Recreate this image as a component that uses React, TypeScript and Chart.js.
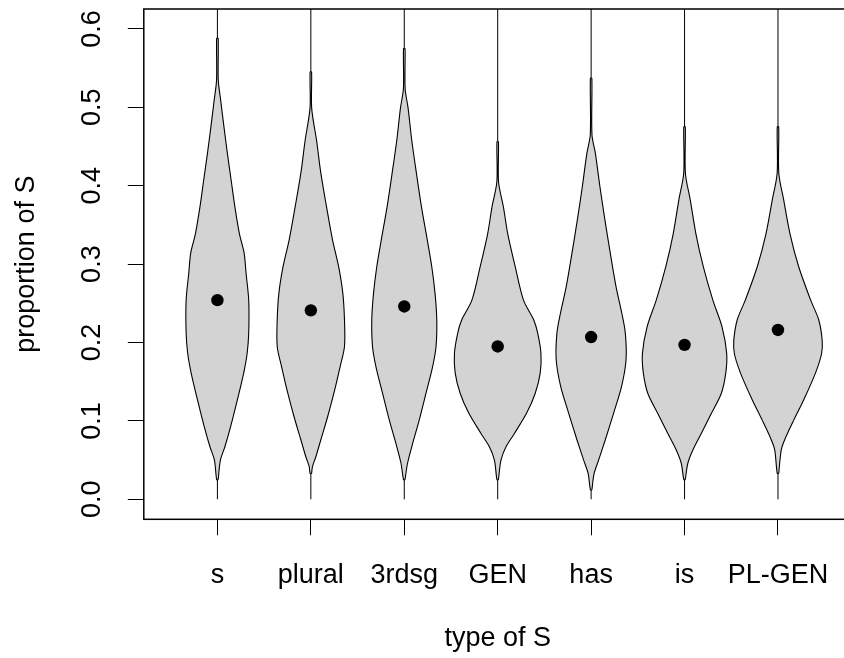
import React, { useEffect, useRef } from "react";
import { Chart, registerables } from "chart.js";

Chart.register(...registerables);

// ---------- data ----------
const categories = ["s", "plural", "3rdsg", "GEN", "has", "is", "PL-GEN"];
const medians = [0.254, 0.241, 0.246, 0.195, 0.207, 0.197, 0.216];
const whiskerLow = [0.0, 0.0, 0.0, 0.0, 0.0, 0.0, 0.0];
const whiskerHigh = [0.7, 0.7, 0.7, 0.7, 0.7, 0.7, 0.7];
const yTicks = [0, 0.1, 0.2, 0.3, 0.4, 0.5, 0.6];
const yTickLabels = ["0.0", "0.1", "0.2", "0.3", "0.4", "0.5", "0.6"];

// violin profiles: [value, half-width in category units]
const violinS = [
  [0.025, 0.008], [0.05, 0.032], [0.067, 0.08], [0.093, 0.142], [0.127, 0.214],
  [0.161, 0.281], [0.186, 0.318], [0.212, 0.335], [0.254, 0.335], [0.288, 0.307],
  [0.314, 0.286], [0.339, 0.235], [0.373, 0.187], [0.407, 0.147], [0.441, 0.107],
  [0.475, 0.07], [0.509, 0.035], [0.535, 0.009], [0.588, 0.008],
];
const violinPlural = [
  [0.033, 0.008], [0.042, 0.018], [0.054, 0.053], [0.076, 0.107], [0.105, 0.179],
  [0.135, 0.246], [0.169, 0.313], [0.195, 0.36], [0.229, 0.36], [0.263, 0.342],
  [0.297, 0.297], [0.331, 0.232], [0.373, 0.168], [0.416, 0.107], [0.458, 0.061],
  [0.499, 0.009], [0.545, 0.008],
];
const violin3rdsg = [
  [0.025, 0.008], [0.046, 0.035], [0.071, 0.089], [0.101, 0.16], [0.135, 0.232],
  [0.169, 0.303], [0.195, 0.34], [0.229, 0.348], [0.263, 0.329], [0.297, 0.294],
  [0.331, 0.246], [0.373, 0.184], [0.416, 0.13], [0.458, 0.08], [0.499, 0.041],
  [0.524, 0.009], [0.575, 0.008],
];
const violinGEN = [
  [0.025, 0.008], [0.05, 0.035], [0.067, 0.089], [0.084, 0.179], [0.11, 0.31],
  [0.135, 0.401], [0.161, 0.455], [0.186, 0.463], [0.212, 0.428], [0.229, 0.385],
  [0.254, 0.276], [0.297, 0.187], [0.339, 0.107], [0.373, 0.061], [0.405, 0.009],
  [0.456, 0.008],
];
const violinHas = [
  [0.012, 0.008], [0.033, 0.032], [0.05, 0.08], [0.076, 0.152], [0.11, 0.241],
  [0.144, 0.326], [0.178, 0.374], [0.212, 0.366], [0.237, 0.329], [0.271, 0.267],
  [0.314, 0.205], [0.356, 0.148], [0.399, 0.094], [0.441, 0.046], [0.465, 0.009],
  [0.537, 0.008],
];
const violinIs = [
  [0.025, 0.008], [0.046, 0.035], [0.063, 0.089], [0.084, 0.179], [0.11, 0.289],
  [0.135, 0.393], [0.161, 0.441], [0.186, 0.451], [0.22, 0.401], [0.254, 0.303],
  [0.297, 0.2], [0.339, 0.121], [0.382, 0.061], [0.416, 0.009], [0.475, 0.008],
];
const violinPLGEN = [
  [0.033, 0.008], [0.063, 0.035], [0.076, 0.072], [0.101, 0.169], [0.127, 0.276],
  [0.161, 0.401], [0.186, 0.467], [0.203, 0.473], [0.229, 0.436], [0.254, 0.35],
  [0.297, 0.221], [0.339, 0.128], [0.382, 0.061], [0.416, 0.009], [0.475, 0.008],
];
const violins = [violinS, violinPlural, violin3rdsg, violinGEN, violinHas, violinIs, violinPLGEN];

const xTitle = "type of S";
const yTitle = "proportion of S";

// ---------- styling ----------
const FONT = "'Liberation Sans', Arial, sans-serif";
const TICK_SIZE = 27;
const TITLE_SIZE = 27;
const FILL = "#D3D3D3";

const boxAndLabels = {
  id: "boxAndLabels",
  afterDraw(chart: any) {
    const { ctx, chartArea, scales } = chart;
    ctx.save();
    ctx.strokeStyle = "#000";
    ctx.lineWidth = 1.5;
    ctx.strokeRect(chartArea.left, chartArea.top, chartArea.right - chartArea.left, chartArea.bottom - chartArea.top);
    // rotated y tick labels (R style, parallel to axis)
    ctx.fillStyle = "#000";
    ctx.font = `${TICK_SIZE}px ${FONT}`;
    ctx.textAlign = "center";
    ctx.textBaseline = "middle";
    const x = chartArea.left - 51.5;
    yTicks.forEach((v, i) => {
      const y = scales.y.getPixelForValue(v);
      ctx.save();
      ctx.translate(x, y);
      ctx.rotate(-Math.PI / 2);
      ctx.fillText(yTickLabels[i], 0, 0);
      ctx.restore();
    });
    ctx.restore();
  },
};

export default function App() {
  const ref = useRef<HTMLCanvasElement | null>(null);

  useEffect(() => {
    if (!ref.current) return;
    const datasets: any[] = [];
    categories.forEach((_, i) => {
      datasets.push({
        type: "scatter",
        data: [
          { x: i + 1, y: whiskerLow[i] },
          { x: i + 1, y: whiskerHigh[i] },
        ],
        showLine: true,
        borderColor: "#000",
        borderWidth: 1,
        pointRadius: 0,
        fill: false,
        order: 2,
      });
    });
    violins.forEach((prof, i) => {
      const c = i + 1;
      const right = prof.map(([v, w]) => ({ x: c + w, y: v }));
      const left = prof.slice().reverse().map(([v, w]) => ({ x: c - w, y: v }));
      const pts = [...right, ...left, right[0]];
      datasets.push({
        type: "scatter",
        data: pts,
        showLine: true,
        borderColor: "#000",
        borderWidth: 1.1,
        backgroundColor: FILL,
        fill: "shape",
        pointRadius: 0,
        tension: 0.3,
        order: 1,
      });
    });
    datasets.push({
      type: "scatter",
      data: medians.map((m, i) => ({ x: i + 1, y: m })),
      showLine: false,
      pointRadius: 6.2,
      pointBackgroundColor: "#000",
      pointBorderColor: "#000",
      pointBorderWidth: 0,
      order: 0,
    });

    const chart = new Chart(ref.current, {
      type: "scatter",
      data: { datasets },
      options: {
        animation: false,
        responsive: false,
        events: [],
        layout: { padding: { top: 9, right: 8.4, left: 0.5, bottom: 0 } },
        plugins: { legend: { display: false }, tooltip: { enabled: false } },
        scales: {
          x: {
            type: "linear",
            min: 0.212,
            max: 7.788,
            afterBuildTicks: (axis: any) => {
              axis.ticks = categories.map((_, i) => ({ value: i + 1 }));
            },
            afterFit: (scale: any) => {
              scale.height = 138.7;
            },
            ticks: {
              autoSkip: false,
              maxRotation: 0,
              minRotation: 0,
              padding: 24,
              color: "#000",
              font: { family: FONT, size: TICK_SIZE },
              callback: (v: any) => categories[Math.round(Number(v)) - 1] ?? "",
            },
            grid: { drawOnChartArea: false, drawTicks: true, tickLength: 16, color: "#000", lineWidth: 1 },
            border: { display: false },
            title: {
              display: true,
              text: xTitle,
              color: "#000",
              font: { family: FONT, size: TITLE_SIZE },
              padding: { top: 0, bottom: 3 },
            },
          },
          y: {
            type: "linear",
            min: -0.0255,
            max: 0.6254,
            afterBuildTicks: (axis: any) => {
              axis.ticks = yTicks.map((v) => ({ value: v }));
            },
            afterFit: (scale: any) => {
              scale.width = 143.3;
            },
            ticks: { display: false },
            grid: { drawOnChartArea: false, drawTicks: true, tickLength: 16, color: "#000", lineWidth: 1 },
            border: { display: false },
            title: {
              display: true,
              text: yTitle,
              color: "#000",
              font: { family: FONT, size: TITLE_SIZE },
              padding: { top: 10, bottom: 0 },
            },
          },
        },
      },
      plugins: [boxAndLabels],
    });
    return () => chart.destroy();
  }, []);

  return (
    <div style={{ position: "fixed", left: 0, top: 0, width: 844, height: 658, overflow: "hidden", background: "#fff" }}>
      <canvas ref={ref} width={860} height={658} style={{ display: "block" }} />
    </div>
  );
}
